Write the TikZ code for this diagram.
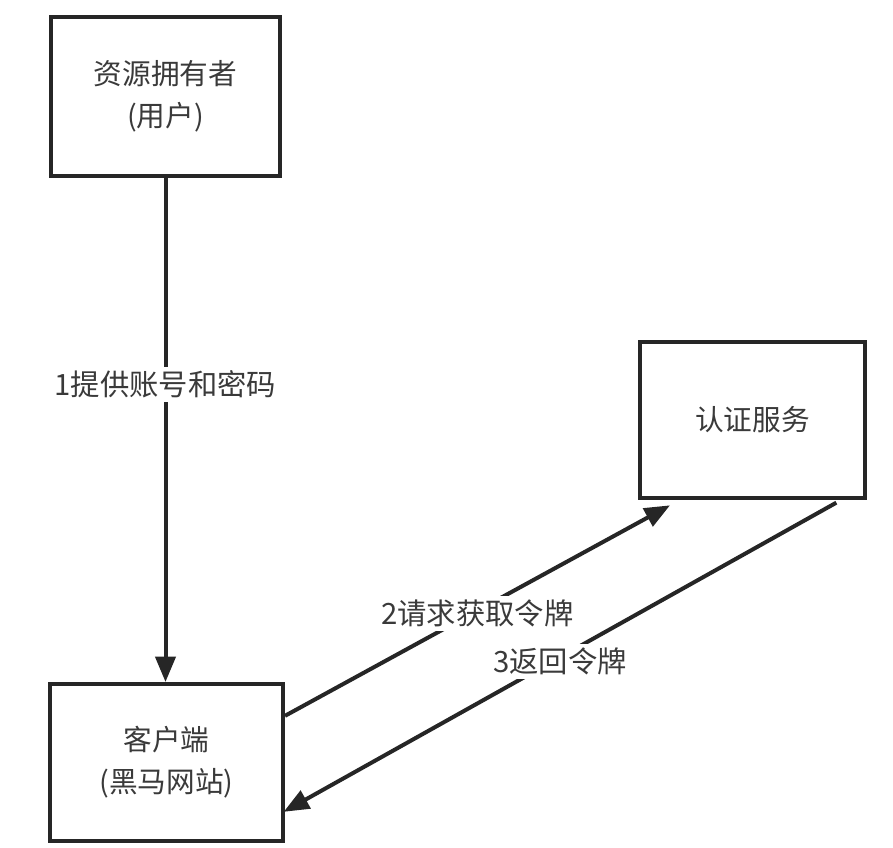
\documentclass[tikz,border=0pt]{standalone}
\usepackage{fontspec}
\setmainfont{Noto Sans CJK SC}
\usepackage{xcolor}
\usetikzlibrary{arrows.meta}
\usetikzlibrary{calc}
\definecolor{lineclr}{HTML}{262626}
\definecolor{textclr}{HTML}{3A3A3A}

\begin{document}
\begin{tikzpicture}[x=0.75pt,y=-0.75pt,
    box/.style={draw=lineclr,line width=3pt,inner sep=0pt,align=center,text=textclr,
      font=\fontsize{21.5}{31.5}\selectfont},
    lbl/.style={fill=white,inner sep=3pt,text=textclr,font=\fontsize{22}{26}\selectfont},
    flow/.style={draw=lineclr,line width=3pt,-{Triangle[length=19pt,width=15pt]}}]
      % Fix the page size
      \useasboundingbox (0,0) rectangle (893,848);

      % Place the three boxes
      \node[box,minimum width=171.75pt,minimum height=119.25pt] (owner) at (165.5,96.5) {资源拥有者\\(用户)};
      \node[box,minimum width=174.75pt,minimum height=117.75pt] (client) at (166.5,762.5) {客户端\\(黑马网站)};
      \node[box,minimum width=168.75pt,minimum height=117pt] (auth) at (752.5,420) {认证服务};

      % Draw the flows
      \draw[flow] (owner.south) -- (owner.south |- client.north)
        node[lbl,pos=0.41] {1提供账号和密码};
      \draw[flow] ([yshift=35pt]client.east) -- ([xshift=24pt,yshift=-4pt]auth.south west)
        node[lbl,pos=0.5,yshift=-2pt] {2请求获取令牌};
      \draw[flow] ([xshift=-23pt,yshift=-2pt]auth.south east) -- ([xshift=-1pt,yshift=-37pt]client.east)
        node[lbl,pos=0.5,yshift=-3pt] {3返回令牌};
    \end{tikzpicture}
\end{document}
